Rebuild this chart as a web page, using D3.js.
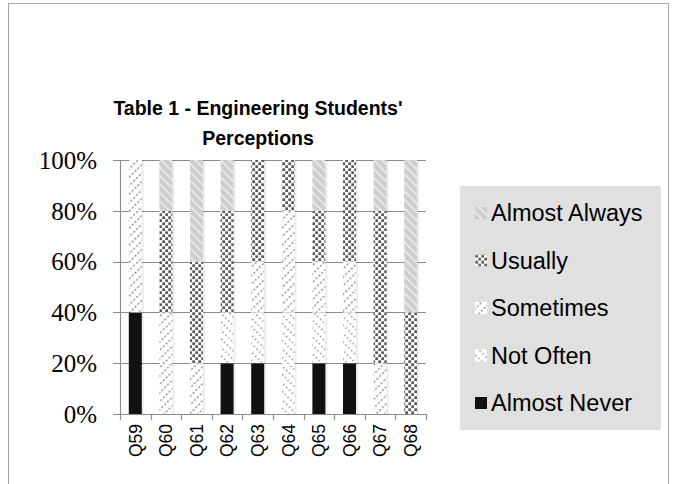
<!DOCTYPE html>
<html><head><meta charset="utf-8">
<script src="https://cdn.jsdelivr.net/npm/d3@7"></script>
<style>html,body{margin:0;padding:0;background:#fff;}svg{display:block;}</style>
</head><body>
<svg id="c" width="674" height="484"></svg>
<script>
const categories = ["Q59","Q60","Q61","Q62","Q63","Q64","Q65","Q66","Q67","Q68"];
const seriesNames = ["Almost Never","Not Often","Sometimes","Usually","Almost Always"];
const almostNever  = [40, 0, 0,20,20, 0,20,20, 0, 0];
const notOften     = [ 0, 0, 0,20,20,40,20,20, 0, 0];
const sometimes    = [60,40,20, 0,20,40,20,20,20, 0];
const usually      = [ 0,40,40,40,40,20,20,40,60,40];
const almostAlways = [ 0,20,40,20, 0, 0,20, 0,20,60];
const yTicks = [0,0.2,0.4,0.6,0.8,1];
const titleLines = ["Table 1 - Engineering Students'","Perceptions"];

const seriesValues = [almostNever, notOften, sometimes, usually, almostAlways];
const rows = categories.map((c,i)=>{const r={cat:c}; seriesNames.forEach((s,j)=>r[s]=seriesValues[j][i]/100); return r;});
const stacked = d3.stack().keys(seriesNames)(rows);

const svg = d3.select("#c");
const defs = svg.append("defs");
// patterns
const pAN = "#111111";
let p = defs.append("pattern").attr("id","pNO").attr("patternUnits","userSpaceOnUse").attr("width",6).attr("height",4).attr("patternTransform","rotate(-45)");
p.append("rect").attr("width",6).attr("height",4).attr("fill","#fff");
p.append("rect").attr("x",0).attr("y",0).attr("width",1.4).attr("height",1.4).attr("fill","#808080");
p = defs.append("pattern").attr("id","pSO").attr("patternUnits","userSpaceOnUse").attr("width",6).attr("height",4).attr("patternTransform","rotate(45)");
p.append("rect").attr("width",6).attr("height",4).attr("fill","#fff");
p.append("rect").attr("x",0).attr("y",0).attr("width",1.3).attr("height",2.2).attr("fill","#8a8a8a");
p = defs.append("pattern").attr("id","pUS").attr("patternUnits","userSpaceOnUse").attr("width",6).attr("height",6);
p.append("rect").attr("width",6).attr("height",6).attr("fill","#fff");
p.append("rect").attr("x",0.3).attr("y",0.3).attr("width",2.8).attr("height",2.8).attr("fill","#5a5a5a");
p.append("rect").attr("x",3.3).attr("y",3.3).attr("width",2.8).attr("height",2.8).attr("fill","#5a5a5a");
p = defs.append("pattern").attr("id","pAA").attr("patternUnits","userSpaceOnUse").attr("width",6).attr("height",6).attr("patternTransform","rotate(-45)");
p.append("rect").attr("width",6).attr("height",6).attr("fill","#cdcdcd");
p.append("rect").attr("x",0).attr("y",0).attr("width",1.4).attr("height",6).attr("fill","#f0f0f0");
const fills = {"Almost Never":pAN,"Not Often":"url(#pNO)","Sometimes":"url(#pSO)","Usually":"url(#pUS)","Almost Always":"url(#pAA)"};

// border
svg.append("rect").attr("x",8.5).attr("y",3.5).attr("width",660).attr("height",500)
  .attr("fill","none").attr("stroke","#a6a6a6").attr("stroke-width",1);

// title
svg.append("g").selectAll("text").data(titleLines).join("text")
  .attr("x",258).attr("y",(d,i)=>115+i*30).attr("text-anchor","middle")
  .attr("font-family","Liberation Sans, Arial, sans-serif").attr("font-weight","bold")
  .attr("font-size",19.5).attr("fill","#000").text(d=>d);

const x = d3.scaleBand().domain(categories).range([120,426]).paddingInner(0.575).paddingOuter(0.2875);
const y = d3.scaleLinear().domain([0,1]).range([414,160]);

// gridlines
svg.append("g").selectAll("line").data(yTicks).join("line")
  .attr("x1",113).attr("x2",426).attr("y1",d=>Math.round(y(d))+0.5).attr("y2",d=>Math.round(y(d))+0.5)
  .attr("stroke","#8c8c8c").attr("stroke-width",1.2);
// y axis line
svg.append("line").attr("x1",120.5).attr("x2",120.5).attr("y1",y(1)).attr("y2",y(0)+1).attr("stroke","#8c8c8c").attr("stroke-width",1.2);
// y labels
const yAxis = d3.axisLeft(y).tickValues(yTicks).tickFormat(d3.format(".0%")).tickSize(0).tickPadding(0);
const ya = svg.append("g").attr("transform","translate(97,0)").call(yAxis);
ya.select(".domain").remove();
ya.selectAll("text").attr("font-family","Liberation Serif, Times New Roman, serif").attr("font-size",25).attr("fill","#000").attr("dy","0.33em");

// x axis ticks
const step = x.step();
const bounds = d3.range(categories.length+1).map(i=>120 + i*step);
svg.append("g").selectAll("line").data(bounds).join("line")
  .attr("x1",d=>Math.round(d)+0.5).attr("x2",d=>Math.round(d)+0.5).attr("y1",414).attr("y2",420)
  .attr("stroke","#8c8c8c").attr("stroke-width",1.2);
const xAxis = d3.axisBottom(x).tickSize(0).tickPadding(0);
const xa = svg.append("g").attr("transform","translate(0,424)").call(xAxis);
xa.select(".domain").remove();
xa.selectAll("text").attr("transform","rotate(-90)").attr("text-anchor","end")
  .attr("x",0).attr("y",0).attr("dy","0.36em")
  .attr("font-family","Liberation Sans, Arial, sans-serif").attr("font-size",17.5).attr("fill","#000");

// stacked bars
const bars = svg.append("g");
stacked.forEach(s=>{
  const segs = s.filter(d=>d[1]-d[0]>0);
  bars.append("g").selectAll("rect").data(segs).join("rect")
    .attr("x",d=>x(d.data.cat)).attr("width",x.bandwidth())
    .attr("y",d=>y(d[1])).attr("height",d=>y(d[0])-y(d[1]))
    .attr("fill",fills[s.key]);
  bars.append("g").selectAll("rect").data(segs).join("rect")
    .attr("x",d=>x(d.data.cat)+x.bandwidth()).attr("width",2)
    .attr("y",d=>y(d[1])).attr("height",d=>y(d[0])-y(d[1]))
    .attr("fill","#000").attr("opacity",0.07);
});

// legend
const lg = svg.append("g");
lg.append("rect").attr("x",460).attr("y",186).attr("width",201).attr("height",244).attr("fill","#e0e0e0");
const legendOrder = seriesNames.slice().reverse();
const items = lg.selectAll("g.it").data(legendOrder).join("g").attr("class","it")
  .attr("transform",(d,i)=>`translate(475,${213+i*47.5})`);
items.append("rect").attr("x",0).attr("y",-6).attr("width",12).attr("height",12).attr("fill",d=>fills[d]);
items.append("text").attr("x",16).attr("y",0).attr("dy","0.36em")
  .attr("font-family","Liberation Sans, Arial, sans-serif").attr("font-size",23.5).attr("fill","#000")
  .text(d=>d);
</script>
</body></html>
